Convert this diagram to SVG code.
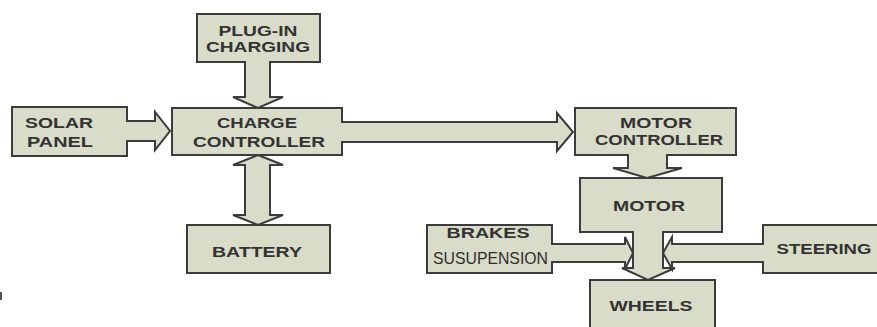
<svg xmlns="http://www.w3.org/2000/svg" width="877" height="327" viewBox="0 0 877 327">
<style>
.box{fill:#d9dcc8;stroke:#3c3c3c;stroke-width:2}
.af{fill:#d9dcc8;stroke:none}
.as{fill:none;stroke:#3c3c3c;stroke-width:2;stroke-linejoin:miter}
.t{font-family:"Liberation Sans",Arial,sans-serif;font-weight:bold;font-size:15px;fill:#333;text-anchor:middle}
.n{font-family:"Liberation Sans",Arial,sans-serif;font-size:17px;fill:#2e2e2e}
</style>
<g id="plugin"><rect class="box" x="197" y="14" width="123" height="48"/><text class="t" x="258" y="36" textLength="79" lengthAdjust="spacingAndGlyphs">PLUG-IN</text><text class="t" x="258" y="52" textLength="104" lengthAdjust="spacingAndGlyphs">CHARGING</text></g>
<g id="solar"><rect class="box" x="12" y="107" width="115" height="49"/><text class="t" x="59" y="128" textLength="68" lengthAdjust="spacingAndGlyphs">SOLAR</text><text class="t" x="60" y="147" textLength="66" lengthAdjust="spacingAndGlyphs">PANEL</text></g>
<g id="charge"><rect class="box" x="172" y="108" width="170" height="47"/><text class="t" x="257" y="128" textLength="80" lengthAdjust="spacingAndGlyphs">CHARGE</text><text class="t" x="259" y="147" textLength="132" lengthAdjust="spacingAndGlyphs">CONTROLLER</text></g>
<g id="battery"><rect class="box" x="187" y="225" width="143" height="48"/><text class="t" x="257" y="257" textLength="90" lengthAdjust="spacingAndGlyphs">BATTERY</text></g>
<g id="motorcontroller"><rect class="box" x="575" y="108" width="161" height="47"/><text class="t" x="656" y="128" textLength="72" lengthAdjust="spacingAndGlyphs">MOTOR</text><text class="t" x="659" y="145" textLength="128" lengthAdjust="spacingAndGlyphs">CONTROLLER</text></g>
<g id="motor"><rect class="box" x="580" y="178" width="142" height="54"/><text class="t" x="649" y="211" textLength="72" lengthAdjust="spacingAndGlyphs">MOTOR</text></g>
<g id="wheels"><rect class="box" x="590" y="280" width="125" height="52"/><text class="t" x="651" y="311" textLength="83" lengthAdjust="spacingAndGlyphs">WHEELS</text></g>
<g id="brakes"><rect class="box" x="427" y="225" width="125" height="48"/><text class="t" x="488" y="238" textLength="83" lengthAdjust="spacingAndGlyphs">BRAKES</text><text class="n" x="433" y="264" textLength="115" lengthAdjust="spacingAndGlyphs">SUSUPENSION</text></g>
<g id="steering"><rect class="box" x="763" y="225" width="120" height="48"/><text class="t" x="824" y="254" textLength="95" lengthAdjust="spacingAndGlyphs">STEERING</text></g>
<g id="connectors">
<polygon class="af" points="246,60 269,60 269,97 283,97 258,108 233,97 246,97"/>
<polyline class="as" points="245,62 245,97 233,97 258,108 283,97 270,97 270,62"/>
<polygon class="af" points="125,122 155,122 155,112 170,131 155,150 155,140 125,140"/>
<polyline class="as" points="127,121 155,121 155,112 170,131 155,150 155,141 127,141"/>
<polygon class="af" points="340,123 557,123 557,113 573,132 557,151 557,141 340,141"/>
<polyline class="as" points="342,122 557,122 557,113 573,132 557,151 557,142 342,142"/>
<polygon class="af" points="258,155 283,165 270,165 270,215 283,215 258,225 233,215 245,215 245,165 233,165"/>
<polygon class="as" points="258,155 283,165 270,165 270,215 283,215 258,225 233,215 245,215 245,165 233,165"/>
<polygon class="af" points="629,153 666,153 666,168 682,168 647,178 613,168 629,168"/>
<polyline class="as" points="628,155 628,168 613,168 647,178 682,168 667,168 667,155"/>
<polygon class="af" points="634,230 662,230 662,268 675,268 648,280 622,268 634,268"/>
<polyline class="as" points="633,232 633,268 622,268 648,280 675,268 663,268 663,232"/>
<polygon class="af" points="550,245 625,245 625,237 633,253 625,269 625,261 550,261"/>
<polyline class="as" points="552,244 625,244 625,237 633,253 625,269 625,262 552,262"/>
<polygon class="af" points="765,245 672,245 672,237 663,253 672,269 672,261 765,261"/>
<polyline class="as" points="763,244 672,244 672,237 663,253 672,269 672,262 763,262"/>
</g>
<rect x="0" y="292" width="2" height="8" fill="#555"/>
</svg>
